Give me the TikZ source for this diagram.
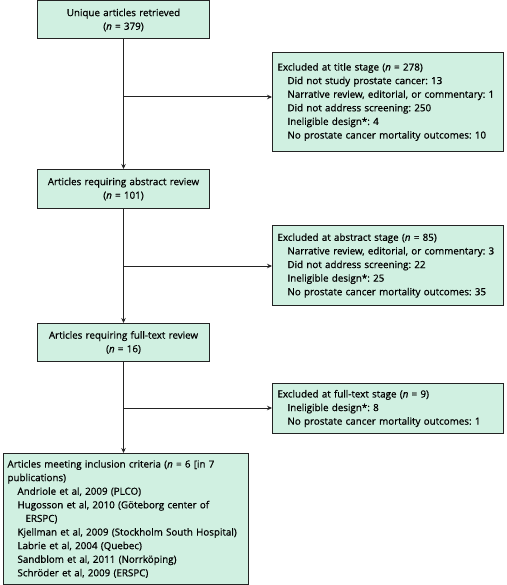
\documentclass[tikz,border=0pt]{standalone}
\usepackage{fontspec}
\setmainfont{Open Sans}[FakeBold=0.7]
\usetikzlibrary{arrows.meta}
\definecolor{boxfill}{RGB}{208,240,225}
\definecolor{edge}{RGB}{35,35,35}
\begin{document}
\frenchspacing
\begin{tikzpicture}[x=1pt,y=-1pt,
  box/.style={draw=edge, line width=1pt, fill=boxfill, anchor=north west,
    inner xsep=5pt, inner ysep=2pt, font=\fontsize{9.8}{13.6}\selectfont},
  cbox/.style={box, align=center},
  lbox/.style={box, align=left},
  conn/.style={draw=edge, line width=1pt},
  arr/.style={conn, -{Stealth[length=5pt,width=4.5pt]}}]
\useasboundingbox (0,0) rectangle (506,585);
\newcommand{\ind}{\hspace*{10pt}}
\node[cbox, text width=162pt, minimum width=172pt, minimum height=38pt] (b1) at (37,0.5)
  {Unique articles retrieved\\(\textit{n} = 379)};
\node[lbox, text width=221pt, minimum width=231pt, minimum height=99pt] (b2) at (272,52)
  {Excluded at title stage (\textit{n} = 278)\\
   \ind Did not study prostate cancer: 13\\
   \ind Narrative review, editorial, or commentary: 1\\
   \ind Did not address screening: 250\\
   \ind Ineligible design*: 4\\
   \ind No prostate cancer mortality outcomes: 10};
\node[cbox, text width=162pt, minimum width=172pt, minimum height=39pt] (b3) at (37,169)
  {Articles requiring abstract review\\(\textit{n} = 101)};
\node[lbox, text width=221pt, minimum width=231pt, minimum height=80pt] (b4) at (272,225)
  {Excluded at abstract stage (\textit{n} = 85)\\
   \ind Narrative review, editorial, or commentary: 3\\
   \ind Did not address screening: 22\\
   \ind Ineligible design*: 25\\
   \ind No prostate cancer mortality outcomes: 35};
\node[cbox, text width=162pt, minimum width=172pt, minimum height=38pt] (b5) at (37,323)
  {Articles requiring full-text review\\(\textit{n} = 16)};
\node[lbox, text width=221pt, minimum width=231pt, minimum height=50pt] (b6) at (272,383)
  {Excluded at full-text stage (\textit{n} = 9)\\
   \ind Ineligible design*: 8\\
   \ind No prostate cancer mortality outcomes: 1};
\node[lbox, inner xsep=4pt, text width=237pt, minimum width=245pt, minimum height=131pt] (b7) at (3,453)
  {Articles meeting inclusion criteria (\textit{n} = 6 [in 7\\
   publications)\\
   \ind Andriole et al, 2009 (PLCO)\\
   \ind Hugosson et al, 2010 (Göteborg center of\\
   \ind\hspace*{8pt}ERSPC)\\
   \ind Kjellman et al, 2009 (Stockholm South Hospital)\\
   \ind Labrie et al, 2004 (Quebec)\\
   \ind Sandblom et al, 2011 (Norrköping)\\
   \ind Schröder et al, 2009 (ERSPC)};
\coordinate (j1) at (124,97);
\coordinate (j2) at (124,266);
\coordinate (j3) at (124,408);
\draw[arr] (b1.south) -- (b3.north);
\draw[arr] (b3.south) -- (b5.north);
\draw[arr] (b5.south) -- (b5.south |- b7.north);
\draw[arr] (j1) -- (j1 -| b2.west);
\draw[arr] (j2) -- (j2 -| b4.west);
\draw[arr] (j3) -- (j3 -| b6.west);
\end{tikzpicture}
\end{document}
